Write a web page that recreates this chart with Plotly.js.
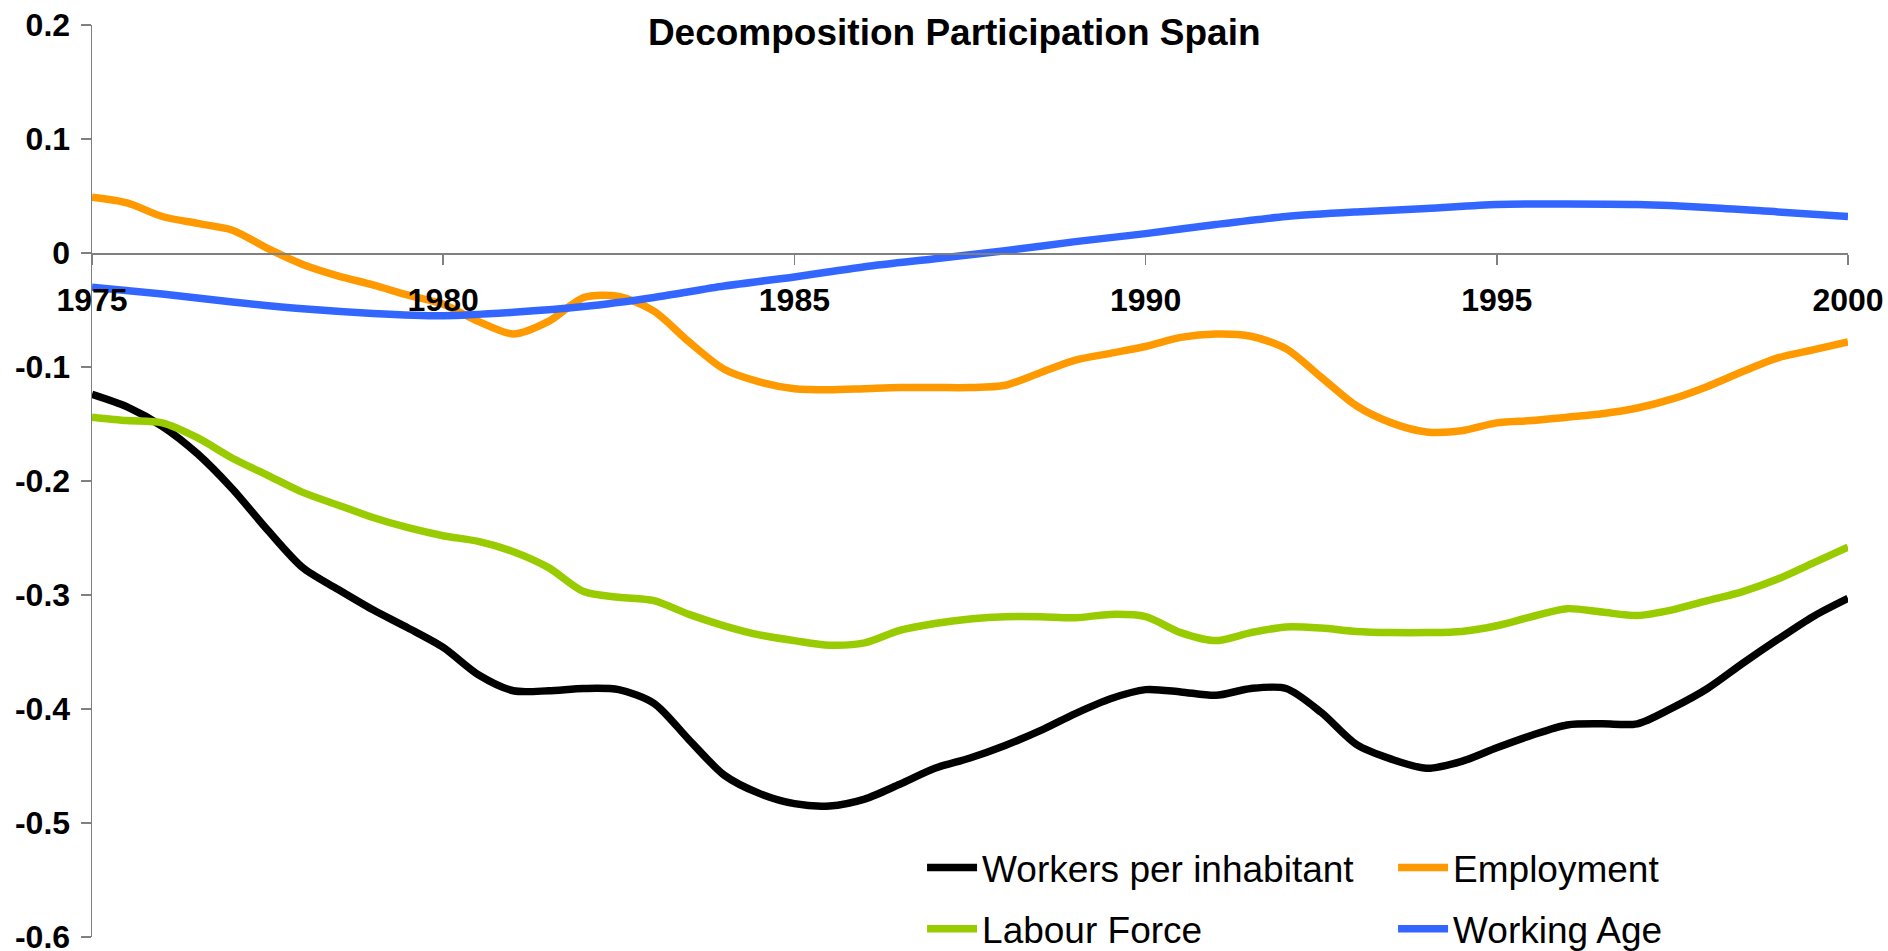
<!DOCTYPE html>
<html>
<head>
<meta charset="utf-8">
<script src="https://cdn.plot.ly/plotly-3.0.1.min.js"></script>
<style>html,body{margin:0;padding:0;background:#fff;}#chart{width:1888px;height:951px;}</style>
</head>
<body>
<div id="chart"></div>
<script>
// Half-yearly observation points
const halfYears = [1975,1975.5,1976,1976.5,1977,1977.5,1978,1978.5,1979,1979.5,1980,1980.5,1981,1981.5,1982,1982.5,1983,1983.5,1984,1984.5,1985,1985.5,1986,1986.5,1987,1987.5,1988,1988.5,1989,1989.5,1990,1990.5,1991,1991.5,1992,1992.5,1993,1993.5,1994,1994.5,1995,1995.5,1996,1996.5,1997,1997.5,1998,1998.5,1999,1999.5,2000];
// Yearly observation points (Working Age)
const years = [1975,1976,1977,1978,1979,1980,1981,1982,1983,1984,1985,1986,1987,1988,1989,1990,1991,1992,1993,1994,1995,1996,1997,1998,1999,2000];

const workersPerInhabitant = [-0.124,-0.135,-0.152,-0.176,-0.207,-0.243,-0.276,-0.295,-0.313,-0.329,-0.346,-0.370,-0.384,-0.384,-0.382,-0.383,-0.395,-0.427,-0.458,-0.474,-0.483,-0.485,-0.479,-0.466,-0.452,-0.443,-0.432,-0.419,-0.404,-0.391,-0.383,-0.385,-0.388,-0.382,-0.382,-0.403,-0.431,-0.444,-0.452,-0.446,-0.434,-0.423,-0.414,-0.413,-0.413,-0.399,-0.382,-0.360,-0.339,-0.319,-0.303];
const employment = [0.049,0.044,0.032,0.026,0.020,0.004,-0.010,-0.020,-0.028,-0.037,-0.045,-0.060,-0.071,-0.060,-0.039,-0.038,-0.051,-0.078,-0.102,-0.113,-0.119,-0.120,-0.119,-0.118,-0.118,-0.118,-0.116,-0.105,-0.094,-0.088,-0.082,-0.074,-0.071,-0.073,-0.084,-0.109,-0.134,-0.149,-0.157,-0.156,-0.149,-0.147,-0.144,-0.141,-0.136,-0.128,-0.117,-0.104,-0.092,-0.085,-0.078];
const labourForce = [-0.144,-0.147,-0.149,-0.162,-0.180,-0.195,-0.210,-0.221,-0.232,-0.241,-0.248,-0.253,-0.262,-0.276,-0.297,-0.302,-0.305,-0.317,-0.327,-0.335,-0.340,-0.344,-0.342,-0.331,-0.325,-0.321,-0.319,-0.319,-0.320,-0.317,-0.319,-0.333,-0.340,-0.333,-0.328,-0.329,-0.332,-0.333,-0.333,-0.332,-0.327,-0.319,-0.312,-0.315,-0.318,-0.313,-0.305,-0.297,-0.286,-0.272,-0.258];
const workingAge = [-0.030,-0.036,-0.043,-0.049,-0.053,-0.055,-0.052,-0.047,-0.039,-0.029,-0.021,-0.012,-0.005,0.002,0.010,0.017,0.025,0.032,0.036,0.039,0.0425,0.043,0.0425,0.040,0.036,0.032];

const xTickVals = [1975,1980,1985,1990,1995,2000];
const xTickText = ['1975','1980','1985','1990','1995','2000'];
const yTickVals = [0.2,0.1,0,-0.1,-0.2,-0.3,-0.4,-0.5,-0.6];
const yTickText = ['0.2','0.1','0','-0.1','-0.2','-0.3','-0.4','-0.5','-0.6'];

const FONT = 'Liberation Sans, Arial, sans-serif';
const LW = 7.5;

const traces = [
  {x: halfYears, y: workersPerInhabitant, name: 'Workers per inhabitant', type: 'scatter', mode: 'lines',
   line: {color: '#000000', width: LW, shape: 'spline', smoothing: 0.8}, legend: 'legend'},
  {x: halfYears, y: employment, name: 'Employment', type: 'scatter', mode: 'lines',
   line: {color: '#FF9900', width: LW, shape: 'spline', smoothing: 0.8}, legend: 'legend'},
  {x: halfYears, y: labourForce, name: 'Labour Force', type: 'scatter', mode: 'lines',
   line: {color: '#99CC00', width: LW, shape: 'spline', smoothing: 0.8}, legend: 'legend2'},
  {x: years, y: workingAge, name: 'Working Age', type: 'scatter', mode: 'lines',
   line: {color: '#3366FF', width: LW, shape: 'spline', smoothing: 0.8}, legend: 'legend2'}
];

const legendCommon = {
  orientation: 'h', xref: 'paper', yref: 'paper', xanchor: 'left', yanchor: 'middle',
  x: 0.4727, entrywidth: 406, entrywidthmode: 'pixels', itemwidth: 50,
  bgcolor: 'rgba(0,0,0,0)', borderwidth: 0,
  font: {family: FONT, size: 37, color: '#000'}
};

const layout = {
  width: 1888, height: 951,
  margin: {l: 92, r: 40, t: 25, b: 14, pad: 0, autoexpand: false},
  paper_bgcolor: '#ffffff', plot_bgcolor: '#ffffff',
  showlegend: true,
  title: {text: 'Decomposition Participation Spain', x: 0.491, xref: 'paper', xanchor: 'center',
          y: 0.966, yref: 'container', yanchor: 'middle',
          font: {family: FONT, size: 37, color: '#000', weight: 'bold'}},
  xaxis: {
    range: [1975, 2000], anchor: 'free', position: 0.75,
    tickmode: 'array', tickvals: xTickVals, ticktext: xTickText,
    showline: true, linecolor: '#808080', linewidth: 1.5,
    ticks: 'outside', ticklen: 10, tickwidth: 1.5, tickcolor: '#808080',
    ticklabelstandoff: 8, ticklabeloverflow: 'allow',
    showgrid: false, zeroline: false, automargin: false,
    tickfont: {family: FONT, size: 32, color: '#000', weight: 'bold'}
  },
  yaxis: {
    range: [-0.6, 0.2],
    tickmode: 'array', tickvals: yTickVals, ticktext: yTickText,
    showline: true, linecolor: '#808080', linewidth: 1.5,
    ticks: 'outside', ticklen: 10, tickwidth: 1.5, tickcolor: '#808080',
    ticklabelstandoff: 4, ticklabeloverflow: 'allow',
    showgrid: false, zeroline: false, automargin: false,
    tickfont: {family: FONT, size: 32, color: '#000', weight: 'bold'}
  },
  legend: Object.assign({}, legendCommon, {y: 0.0757}),
  legend2: Object.assign({}, legendCommon, {y: 0.0085})
};

Plotly.newPlot('chart', traces, layout, {displayModeBar: false, staticPlot: true});
</script>
</body>
</html>
